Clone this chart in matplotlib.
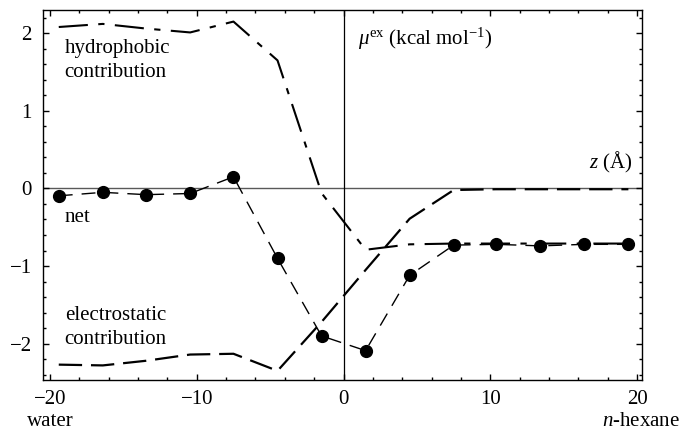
import matplotlib
matplotlib.use("Agg")
import matplotlib.pyplot as plt
from matplotlib.ticker import MultipleLocator

plt.rcParams['font.family'] = ['Liberation Serif', 'DejaVu Serif']
plt.rcParams['mathtext.fontset'] = 'custom'
plt.rcParams['mathtext.rm'] = 'Liberation Serif'
plt.rcParams['mathtext.it'] = 'Liberation Serif:italic'

# layer centres across the water / n-hexane interface (Å)
z = [-19.4, -16.4, -13.45, -10.45, -7.5, -4.5, -1.5,
     1.5, 4.5, 7.5, 10.4, 13.4, 16.4, 19.4]

# excess chemical potential components (kcal/mol)
net = [-0.095, -0.05, -0.08, -0.065, 0.15, -0.90, -1.90,
       -2.09, -1.12, -0.73, -0.72, -0.74, -0.72, -0.72]
hydrophobic = [2.08, 2.12, 2.06, 2.01, 2.15, 1.65, -0.06,
               -0.79, -0.72, -0.71, -0.71, -0.71, -0.71, -0.71]
electrostatic = [-2.27, -2.28, -2.22, -2.14, -2.13, -2.35, -1.72,
                 -1.05, -0.39, -0.02, -0.01, -0.01, -0.01, -0.01]

fig = plt.figure(figsize=(6.81, 4.32), dpi=100)
ax = fig.add_axes([0.063, 0.12, 0.88, 0.857])

ax.axhline(0, color='0.35', lw=1.0, zorder=1)
ax.axvline(0, color='k', lw=0.9, zorder=1)

ax.plot(z, hydrophobic, color='k', lw=1.5, dashes=(14, 5, 3, 5))
ax.plot(z, electrostatic, color='k', lw=1.6, dashes=(10.5, 4))
ax.plot(z, net, color='k', lw=1.0, dashes=(10, 6.5),
        marker='o', ms=8.5, markerfacecolor='k', markeredgecolor='k')

ax.set_xlim(-20.48, 20.34)
ax.set_ylim(-2.47, 2.30)
ax.xaxis.set_major_locator(MultipleLocator(10))
ax.xaxis.set_minor_locator(MultipleLocator(2))
ax.yaxis.set_major_locator(MultipleLocator(1))
ax.yaxis.set_minor_locator(MultipleLocator(0.2))
ax.tick_params(which='both', direction='in', top=True, right=True,
               labelsize=15, width=1.0)
ax.tick_params(which='major', length=4.5)
ax.tick_params(which='minor', length=2.5)
ax.tick_params(axis='x', pad=7)
ax.tick_params(axis='y', pad=8)
for s in ax.spines.values():
    s.set_linewidth(1.0)

ax.text(-19.0, 1.93, 'hydrophobic\ncontribution', fontsize=15,
        va='top', ha='left', linespacing=1.35)
ax.text(-19.0, -0.37, 'net', fontsize=15, va='center', ha='left')
ax.text(-19.0, -1.79, 'electrostatic\ncontribution', fontsize=15,
        va='center', ha='left', linespacing=1.35)
ax.text(0.95, 1.93, r'$\mu^{\rm ex}$ (kcal mol$^{-1}$)', fontsize=15,
        va='center', ha='left')
ax.text(19.66, 0.34, r'$z$ (Å)', fontsize=15, va='center', ha='right')

fig.text(27 / 681, 1 - 421 / 432, 'water', fontsize=15,
         va='center', ha='left')
fig.text(680 / 681, 1 - 421 / 432, r'$n$-hexane', fontsize=15,
         va='center', ha='right')

fig.savefig('out.png', dpi=100)
